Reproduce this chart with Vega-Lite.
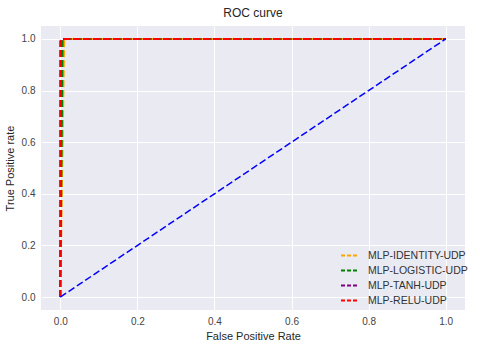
{
  "$schema": "https://vega.github.io/schema/vega-lite/v6.json",
  "width": 424,
  "height": 284,
  "autosize": {"type": "none"},
  "padding": {"left": 41, "top": 26, "right": 15, "bottom": 38},
  "background": "white",
  "title": {"text": "ROC curve", "fontSize": 12, "font": "Liberation Sans", "fontWeight": "normal", "color": "#262626", "offset": 6},
  "config": {
    "view": {"fill": "#EAEAF2", "stroke": null},
    "axis": {
      "domain": false, "ticks": false, "grid": true, "gridColor": "white", "gridWidth": 1,
      "labelFont": "Liberation Sans", "labelFontSize": 10, "labelColor": "#444",
      "titleFont": "Liberation Sans", "titleFontSize": 11, "titleFontWeight": "normal", "titleColor": "#262626"
    },
    "legend": {"labelFont": "Liberation Sans", "labelFontSize": 10.5, "labelColor": "#333"}
  },
  "datasets": {
    "curves": [
      {"model": "MLP-IDENTITY-UDP", "fpr": 0, "tpr": 0},
      {"model": "MLP-IDENTITY-UDP", "fpr": 0.01, "tpr": 0.99},
      {"model": "MLP-IDENTITY-UDP", "fpr": 0.011, "tpr": 1},
      {"model": "MLP-IDENTITY-UDP", "fpr": 1, "tpr": 1},
      {"model": "MLP-LOGISTIC-UDP", "fpr": 0, "tpr": 0},
      {"model": "MLP-LOGISTIC-UDP", "fpr": 0.006, "tpr": 0.99},
      {"model": "MLP-LOGISTIC-UDP", "fpr": 0.007, "tpr": 1},
      {"model": "MLP-LOGISTIC-UDP", "fpr": 1, "tpr": 1},
      {"model": "MLP-TANH-UDP", "fpr": 0, "tpr": 0},
      {"model": "MLP-TANH-UDP", "fpr": 0.0, "tpr": 0.99},
      {"model": "MLP-TANH-UDP", "fpr": 0.003, "tpr": 1},
      {"model": "MLP-TANH-UDP", "fpr": 1, "tpr": 1},
      {"model": "MLP-RELU-UDP", "fpr": 0, "tpr": 0},
      {"model": "MLP-RELU-UDP", "fpr": 0.002, "tpr": 0.99},
      {"model": "MLP-RELU-UDP", "fpr": 0.004, "tpr": 1},
      {"model": "MLP-RELU-UDP", "fpr": 1, "tpr": 1}
    ],
    "diag": [
      {"fpr": 0, "tpr": 0},
      {"fpr": 1, "tpr": 1}
    ]
  },
  "layer": [
    {
      "data": {"name": "curves"},
      "mark": {"type": "line", "strokeDash": [7, 3], "strokeWidth": 2},
      "encoding": {
        "x": {"field": "fpr", "type": "quantitative", "scale": {"domain": [-0.05, 1.05], "nice": false, "zero": false}, "axis": {"values": [0, 0.2, 0.4, 0.6, 0.8, 1.0], "format": ".1f", "title": "False Positive Rate", "labelPadding": 6, "titlePadding": 4}},
        "y": {"field": "tpr", "type": "quantitative", "scale": {"domain": [-0.05, 1.05], "nice": false, "zero": false}, "axis": {"values": [0, 0.2, 0.4, 0.6, 0.8, 1.0], "format": ".1f", "title": "True Positive rate", "labelPadding": 6, "titlePadding": 6}},
        "color": {
          "field": "model", "type": "nominal",
          "scale": {"domain": ["MLP-IDENTITY-UDP", "MLP-LOGISTIC-UDP", "MLP-TANH-UDP", "MLP-RELU-UDP"], "range": ["#FFA500", "#008000", "#800080", "#FF0000"]},
          "legend": {"title": null, "orient": "none", "legendX": 299, "legendY": 220, "symbolType": "stroke", "symbolSize": 289, "symbolStrokeWidth": 2, "symbolDash": [4, 2], "labelOffset": 9, "rowPadding": -3}
        },
        "order": {"field": "fpr", "type": "quantitative"}
      }
    },
    {
      "data": {"name": "diag"},
      "mark": {"type": "line", "strokeDash": [7, 3], "strokeWidth": 1.5, "color": "#0000FF"},
      "encoding": {
        "x": {"field": "fpr", "type": "quantitative"},
        "y": {"field": "tpr", "type": "quantitative"}
      }
    }
  ]
}
